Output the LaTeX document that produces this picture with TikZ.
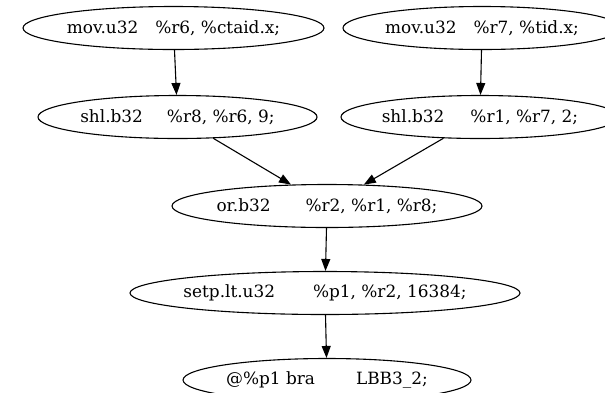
\documentclass[tikz,border=0pt]{standalone}
\usepackage{fontspec}
\setmainfont{DejaVu Serif}
\usetikzlibrary{arrows.meta,shapes.geometric}
\newcommand{\lbl}[3]{\makebox[0pt][c]{#1\hspace{#2pt}#3}}
\begin{document}
\begin{tikzpicture}[x=1pt,y=-1pt,
  insn/.style={ellipse,draw,line width=1.1pt,inner sep=0pt,minimum height=43pt,
    font=\fontsize{16.9}{20}\selectfont},
  edge/.style={line width=1.1pt,-{Triangle[length=12pt,width=9pt]}}]
\useasboundingbox (0,0) rectangle (605,392);
\clip (0,0) rectangle (605,392);
\node[insn,minimum width=301pt] (movA) at (173.5,28) {\lbl{mov.u32}{17}{\%r6, \%ctaid.x;}};
\node[insn,minimum width=278pt] (movB) at (482,28) {\lbl{mov.u32}{17}{\%r7, \%tid.x;}};
\node[insn,minimum width=279pt] (shlA) at (177.5,117) {\lbl{shl.b32}{24}{\%r8, \%r6, 9;}};
\node[insn,minimum width=278pt] (shlB) at (480,117) {\lbl{shl.b32}{26}{\%r1, \%r7, 2;}};
\node[insn,minimum width=310pt] (or) at (327,206) {\lbl{or.b32}{35}{\%r2, \%r1, \%r8;}};
\node[insn,minimum width=390pt] (setp) at (325,293) {\lbl{setp.lt.u32}{38}{\%p1, \%r2, 16384;}};
\node[insn,minimum width=288pt] (bra) at (327,380) {\lbl{@\%p1 bra}{41}{LBB3\_2;}};
\draw[edge] (movA) -- (shlA);
\draw[edge] (movB) -- (shlB);
\draw[edge] (shlA) -- (or);
\draw[edge] (shlB) -- (or);
\draw[edge] (or) -- (setp);
\draw[edge] (setp) -- (bra);
\end{tikzpicture}
\end{document}
